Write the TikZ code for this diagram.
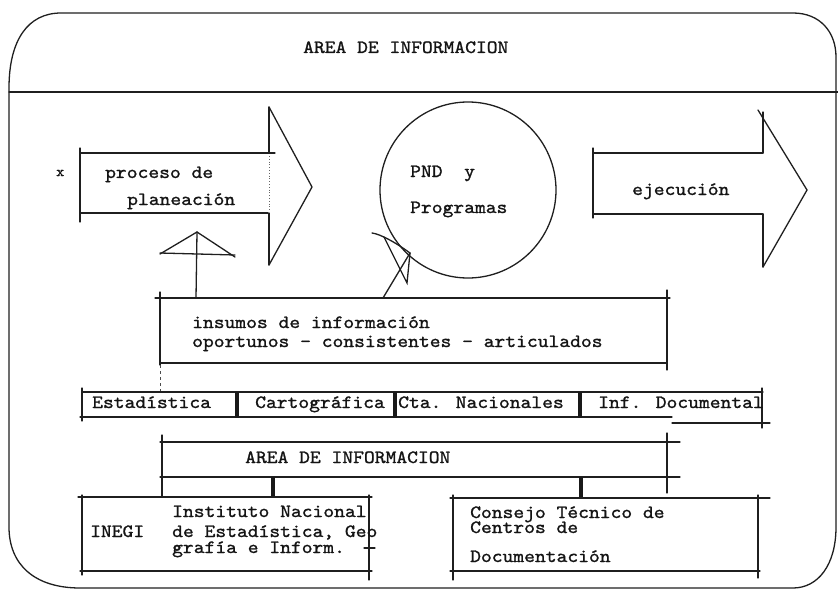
\documentclass[tikz,border=0pt]{standalone}
\usepackage{fontspec}
\newfontfamily\tw[FakeStretch=1.1, FakeBold=1.2]{lmmono10-regular.otf}
\begin{document}
\begin{tikzpicture}[x=1pt,y=-1pt,
  ln/.style={line width=1.3pt, black!88, line cap=round},
  thk/.style={line width=3.2pt, black!90},
  txt/.style={anchor=base west, inner sep=0pt, font=\tw\fontsize{18.7}{20}\selectfont, text=black!92}]
\useasboundingbox (0,0) rectangle (838,591);
% outer frame
\draw[ln] (9,88) .. controls (9,40) and (28,13) .. (61,13) -- (793,13)
  .. controls (820,13) and (836,32) .. (836,57) -- (836,527)
  .. controls (836,565) and (818,588) .. (793,588) -- (80,588)
  .. controls (35,588) and (9,565) .. (9,527) -- cycle;
\draw[ln] (9,92) -- (838,92);
\node[txt] (title) at (303,53) {AREA DE INFORMACION};
% left arrow
\draw[ln] (80,148) -- (80,222);
\draw[ln] (80,153) -- (275,153);
\draw[ln] (80,213) -- (268,213);
\draw[ln] (269,107) -- (269,153);
\draw[ln] (269,213) -- (269,265);
\draw[ln] (269,107) -- (312,187) -- (269,265);
\draw[black!60, dotted, line width=0.8pt] (269,156) -- (269,210);
\node[txt, font=\tw\fontsize{14}{15}\selectfont] (xm) at (56,176) {x};
\node[txt] (proc1) at (105,178) {proceso de};
\node[txt] (proc2) at (127,205) {planeación};
% circle
\node[draw, ln, circle, minimum size=176pt, inner sep=0pt] (pnd) at (468,190) {};
\node[txt] (pnd1) at (410,177) {PND\ \ y};
\node[txt] (pnd2) at (410,213) {Programas};
% right arrow
\draw[ln] (593,148) -- (593,218);
\draw[ln] (593,153) -- (763,153);
\draw[ln] (593,214) -- (763,214);
\draw[ln] (763,112) -- (763,153);
\draw[ln] (763,214) -- (763,267);
\draw[ln] (758,110) -- (807,190) -- (763,267);
\node[txt] (ejec) at (632,195) {ejecución};
% insumos box
\draw[ln] (155,298) -- (670,298);
\draw[ln] (160,363) -- (667,363);
\draw[ln] (160,292) -- (160,365);
\draw[ln] (667,290) -- (667,370);
\node[txt] (ins1) at (192,328) {insumos de información};
\node[txt] (ins2) at (192,347) {oportunos - consistentes - articulados};
% tent arrow up to proceso
\coordinate (tA) at (197,232);
\draw[ln] (196,298) -- (tA);
\draw[ln] (160,254) -- (tA) -- (235,257);
\draw[ln] (160,253) -- (235,255);
% arrow to circle
\coordinate (cA) at (410,253);
\draw[ln] (383,298) -- (cA);
\draw[ln] (372,233) .. controls (380,234) and (395,242) .. (cA);
\draw[ln] (384,237) -- (407,283) -- (cA);
% dashed link
\draw[black!70, dashed, line width=0.8pt] (160,365) -- (160,392);
% row of areas
\draw[ln] (82,392) -- (763,392);
\draw[ln] (80,417) -- (672,417);
\draw[ln] (672,423) -- (770,423);
\draw[ln] (82,388) -- (82,421);
\draw[ln] (762,388) -- (762,428);
\draw[thk] (237,392) -- (237,418);
\draw[thk] (395,392) -- (395,418);
\draw[thk] (580,392) -- (580,418);
\node[txt] (est) at (92,408) {Estadística};
\node[txt] (car) at (255,408) {Cartográfica};
\node[txt] (cta) at (398,408) {Cta. Nacionales};
\node[txt] (inf) at (598,408) {Inf. Documental};
% second AREA box
\draw[ln] (160,442) -- (680,442);
\draw[ln] (160,477) -- (680,477);
\draw[ln] (162,435) -- (162,497);
\draw[ln] (667,433) -- (667,493);
\node[txt] (area2) at (245,463) {AREA DE INFORMACION};
\draw[thk] (273,477) -- (273,497);
\draw[thk] (581,477) -- (581,498);
% INEGI box
\draw[ln] (78,497) -- (372,497);
\draw[ln] (80,571) -- (372,571);
\draw[ln] (82,495) -- (82,575);
\draw[ln] (369,495) -- (369,580);
\draw[ln] (364,548) -- (375,548);
\node[txt] (inegi) at (90,537) {INEGI};
\node[txt] (ine1) at (172,517) {Instituto Nacional};
\node[txt] (ine2) at (172,537) {de Estadística, Geo};
\node[txt] (ine3) at (172,553) {grafía e Inform.};
% Consejo box
\draw[ln] (450,498) -- (770,498);
\draw[ln] (450,571) -- (760,571);
\draw[ln] (453,495) -- (453,580);
\draw[ln] (758,495) -- (758,578);
\node[txt] (con1) at (470,518) {Consejo Técnico de};
\node[txt] (con2) at (470,533) {Centros de};
\node[txt] (con3) at (470,562) {Documentación};
\end{tikzpicture}
\end{document}
